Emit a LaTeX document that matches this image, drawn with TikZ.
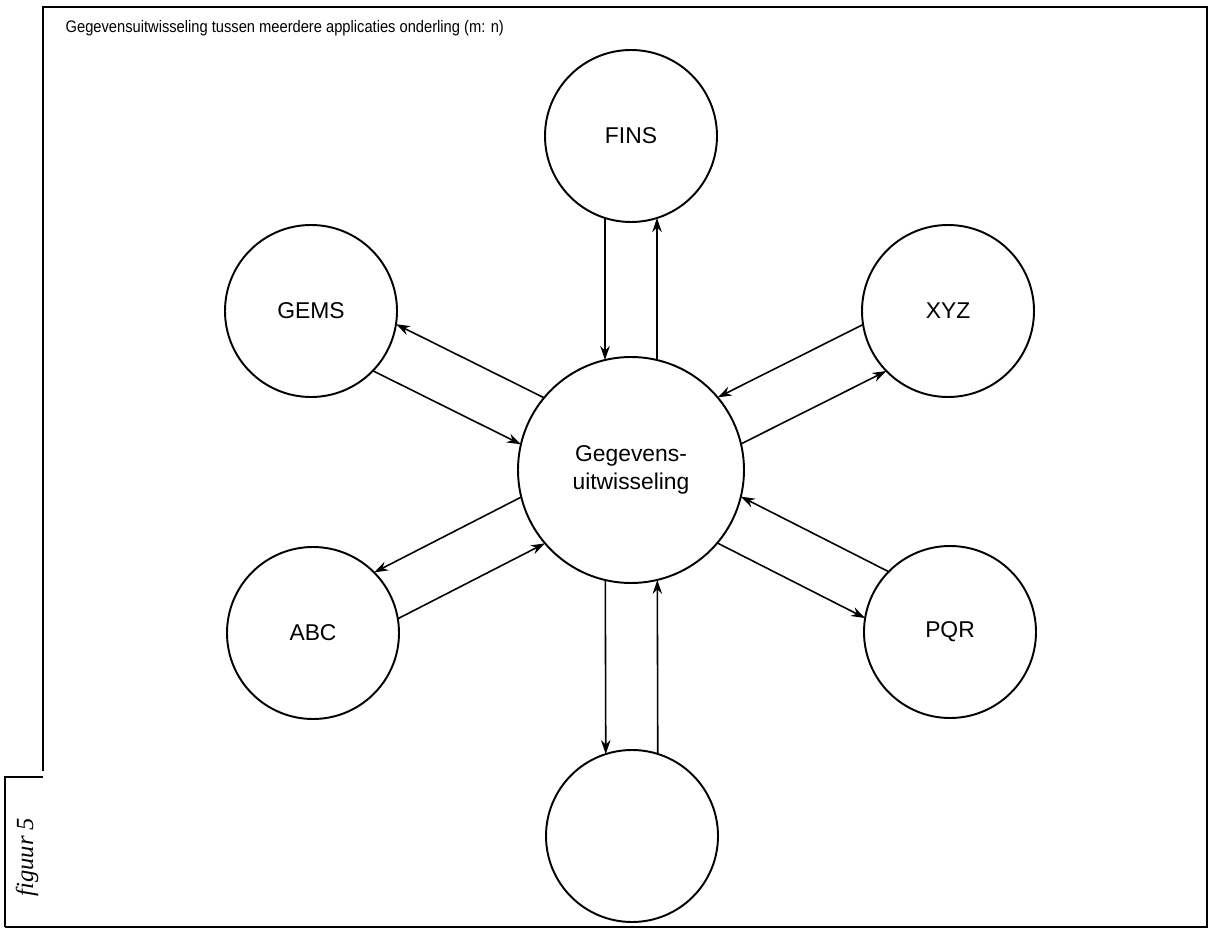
\documentclass[tikz,border=0pt]{standalone}
\usepackage{fontspec}
\setmainfont{Liberation Sans}
\newfontfamily\figfont{Liberation Serif}
\usetikzlibrary{calc, arrows.meta, positioning}

\tikzset{
  app/.style={circle, draw, line width=1.1pt, minimum size=3.44cm, inner sep=0pt,
              font=\fontsize{13}{16}\selectfont},
  hub/.style={app, minimum size=4.52cm, align=center},
}

\begin{document}
\begin{tikzpicture}[>={Stealth[length=2.8mm, width=1.9mm]}, line width=0.9pt]

\useasboundingbox (0,0) rectangle (24.28,18.58);

% kader met kopregel
\draw[line width=1.6pt] (0.86,3.16) -- (0.86,18.44) -- (24.14,18.44) -- (24.14,0.04) -- (0.1,0.04);
\draw[line width=1pt] (0.1,0.04) -- (0.1,3.04) -- (0.86,3.04);
\node[anchor=base west, inner sep=0pt, xscale=0.88, font=\fontsize{9.5}{11}\selectfont] (kop) at (1.3,17.92)
  {Gegevensuitwisseling tussen meerdere applicaties onderling (m: n)};
\node[rotate=90, inner sep=0pt, font=\figfont\itshape\fontsize{14}{16}\selectfont] (fig) at (0.54,1.44) {figuur 5};

% de applicaties rond het knooppunt
\node[hub] (mid) at (12.62,9.18) {Gegevens-\\uitwisseling};
\node[app] (fins) at (12.62,15.86) {FINS};
\node[app] (gems) at (6.22,12.36) {GEMS};
\node[app] (xyz) at (18.96,12.36) {XYZ};
\node[app] (abc) at (6.26,5.92) {ABC};
\node[app] (pqr) at (19.0,5.94) {PQR};
\node[app] (leeg) at (12.64,1.86) {};

% heen en terug, telkens rechts van de hartlijn
\foreach \app in {fins, gems, xyz, abc, pqr, leeg} {
  \draw[->] ($(\app)!1.64cm!(mid)!0.52cm!-90:(mid)$) -- ($(mid)!2.2cm!(\app)!0.52cm!90:(\app)$);
  \draw[->] ($(mid)!2.2cm!(\app)!0.52cm!-90:(\app)$) -- ($(\app)!1.64cm!(mid)!0.52cm!90:(mid)$);
}

\end{tikzpicture}
\end{document}
